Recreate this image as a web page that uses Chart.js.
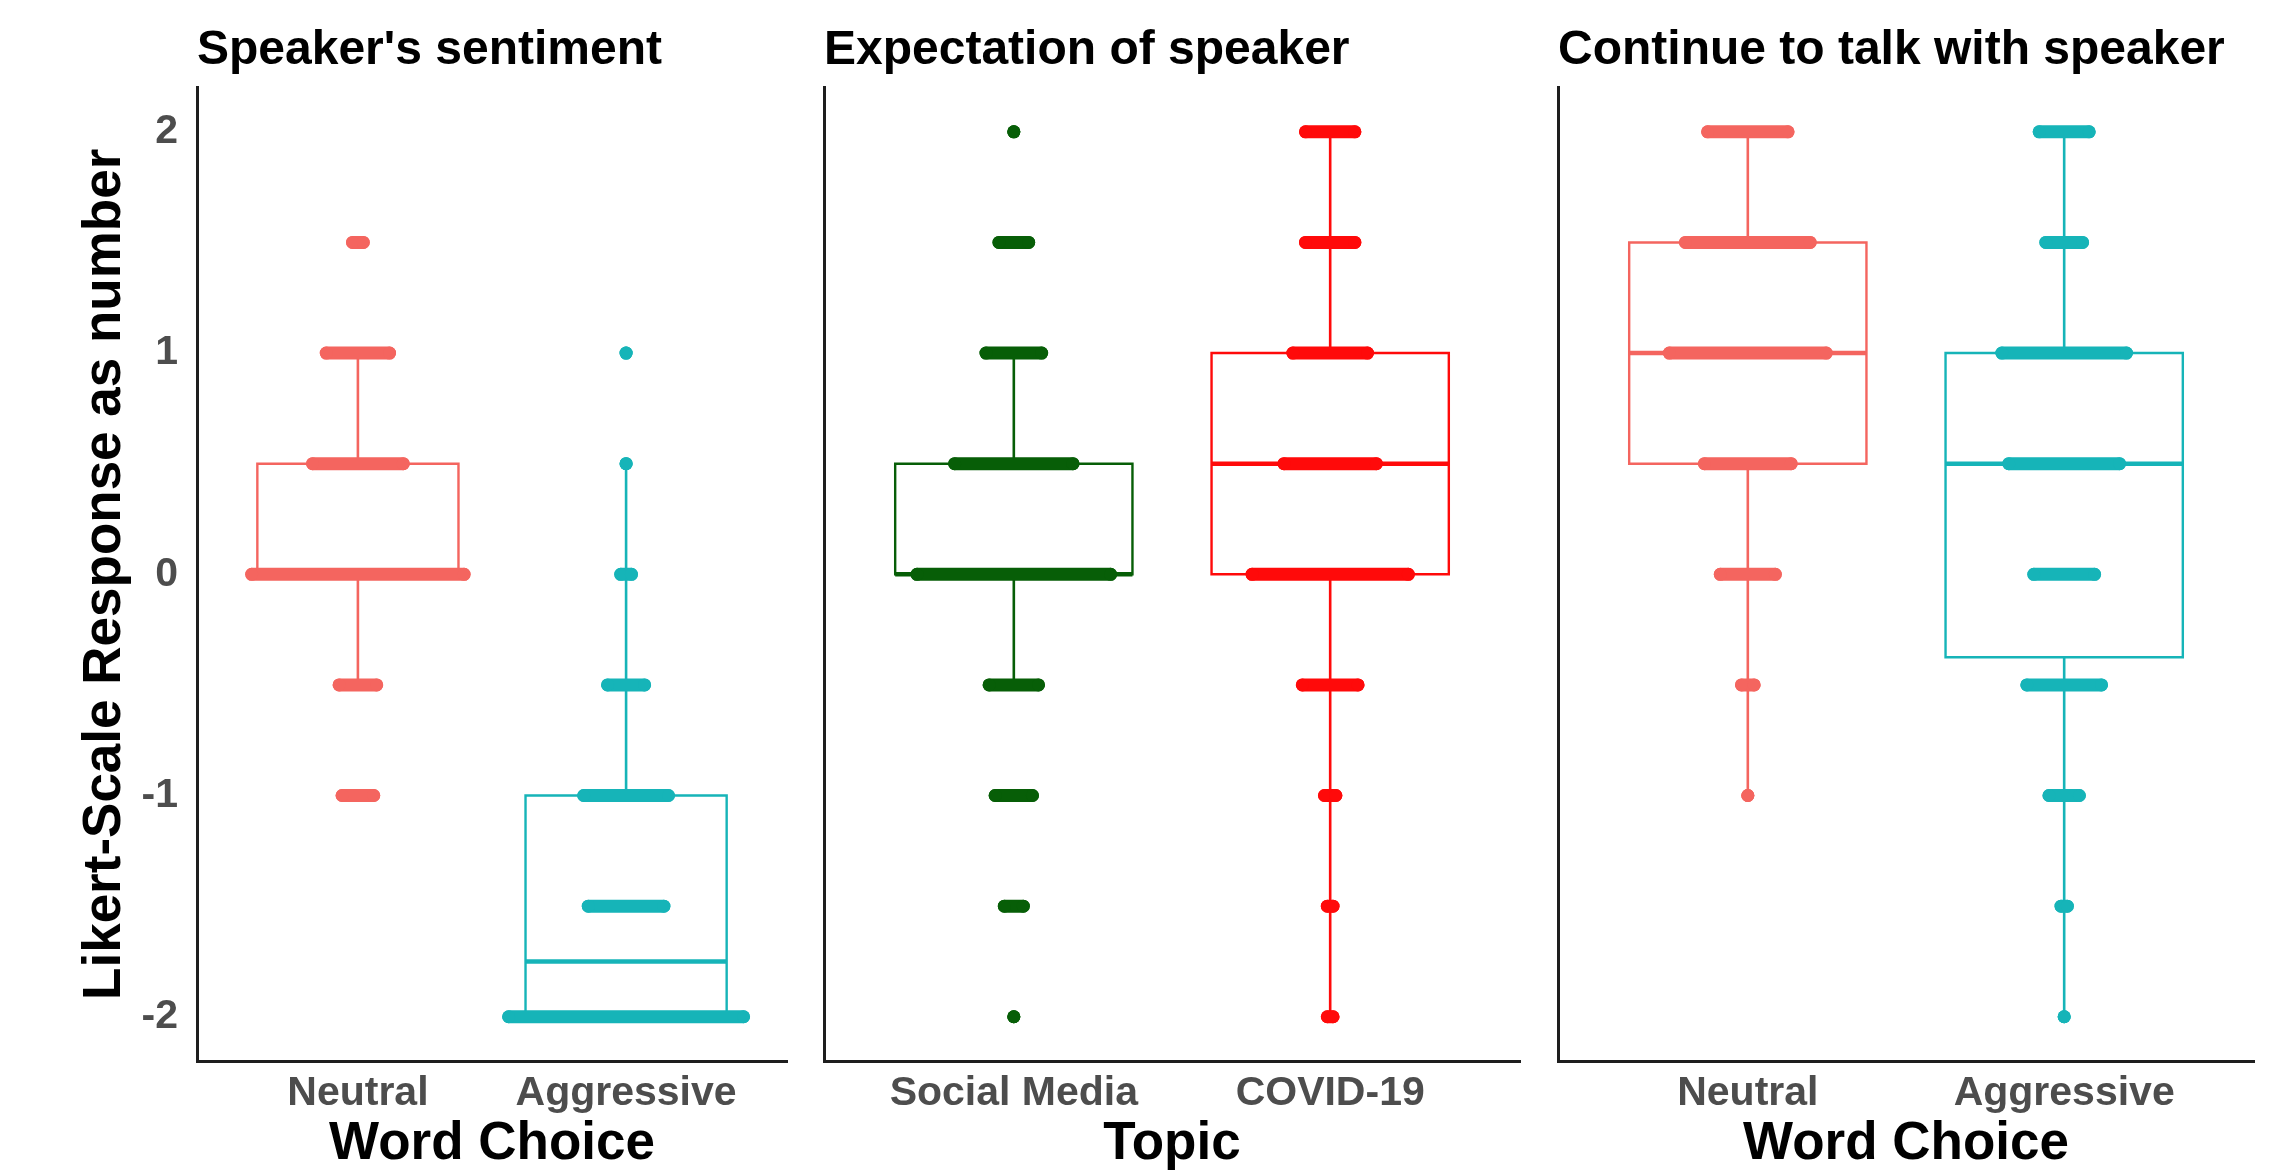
<!DOCTYPE html>
<html>
<head>
<meta charset="utf-8">
<script src="https://cdn.jsdelivr.net/npm/chart.js@4.4.1/dist/chart.umd.min.js"></script>
<style>
  html, body { margin: 0; padding: 0; background: #ffffff; }
  body { width: 2289px; height: 1171px; position: relative; overflow: hidden; }
  canvas { position: absolute; top: 0; }
</style>
</head>
<body>
<canvas id="p1" width="800" height="1171" style="left:0px"></canvas>
<canvas id="p2" width="730" height="1171" style="left:800px"></canvas>
<canvas id="p3" width="759" height="1171" style="left:1530px"></canvas>
<script>
// ---------------- data ----------------
const levels = [2, 1.5, 1, 0.5, 0, -0.5, -1, -1.5, -2];
const yTickValues = [-2, -1, 0, 1, 2];
const yAxisTitle = "Likert-Scale Response as number";

const panelTitles = ["Speaker's sentiment", "Expectation of speaker", "Continue to talk with speaker"];
const xAxisTitles = ["Word Choice", "Topic", "Word Choice"];

const categoriesWord = ["Neutral", "Aggressive"];
const categoriesTopic = ["Social Media", "COVID-19"];

// half-width of the stacked response strip at each level (category units), null = no responses
const stripsSentimentNeutral    = [null, 0.02, 0.118, 0.169, 0.396, 0.07, 0.059, null, null];
const stripsSentimentAggressive = [null, null, 0, 0, 0.02, 0.069, 0.158, 0.141, 0.438];
const stripsExpectSocial        = [0, 0.047, 0.088, 0.187, 0.306, 0.078, 0.059, 0.03, 0];
const stripsExpectCovid         = [0.078, 0.078, 0.118, 0.146, 0.247, 0.088, 0.018, 0.009, 0.009];
const stripsContinueNeutral     = [0.127, 0.197, 0.248, 0.137, 0.087, 0.02, 0, null, null];
const stripsContinueAggressive  = [0.079, 0.058, 0.197, 0.175, 0.096, 0.118, 0.048, 0.01, 0];

// box statistics: [q1, median, q3, lower whisker, upper whisker]
const boxSentimentNeutral    = [0, 0, 0.5, -0.5, 1];
const boxSentimentAggressive = [-2, -1.75, -1, -2, 0.5];
const boxExpectSocial        = [0, 0, 0.5, -0.5, 1];
const boxExpectCovid         = [0, 0.5, 1, -2, 2];
const boxContinueNeutral     = [0.5, 1, 1.5, -1, 2];
const boxContinueAggressive  = [-0.375, 0.5, 1, -2, 2];

// ---------------- styles ----------------
const COL_NEUTRAL = '#F4655F';
const COL_AGGR = '#16B4B8';
const COL_SOCIAL = '#075E07';
const COL_COVID = '#FF0A0A';
const BOX_W = 0.75;
const STRIP_T = 13;
const FONT = "'Liberation Sans', Arial, Helvetica, sans-serif";

function buildDatasets(groups) {
  const ds = [];
  groups.forEach((g, i) => {
    const c = i + 1;
    const [q1, med, q3, lo, hi] = g.box;
    const h = BOX_W / 2;
    ds.push({
      data: [{x: c - h, y: q1}, {x: c + h, y: q1}, {x: c + h, y: q3}, {x: c - h, y: q3}, {x: c - h, y: q1}],
      borderColor: g.color, borderWidth: 2.4, borderJoinStyle: 'miter', borderCapStyle: 'square',
      pointRadius: 0, showLine: true, fill: false, order: 2, clip: false
    });
    ds.push({
      data: [{x: c - h, y: med}, {x: c + h, y: med}],
      borderColor: g.color, borderWidth: 4.6, borderCapStyle: 'butt',
      pointRadius: 0, showLine: true, fill: false, order: 2, clip: false
    });
    ds.push({
      data: [{x: c, y: q3}, {x: c, y: hi}, {x: c, y: null}, {x: c, y: q1}, {x: c, y: lo}],
      borderColor: g.color, borderWidth: 2.6, borderCapStyle: 'butt', spanGaps: false,
      pointRadius: 0, showLine: true, fill: false, order: 2, clip: false
    });
    const pts = [];
    levels.forEach((lv, k) => {
      const w = g.strips[k];
      if (w === null) return;
      pts.push({x: c - w, y: lv}, {x: c + w, y: lv}, {x: c, y: null});
    });
    ds.push({
      data: pts,
      borderColor: g.color, borderWidth: STRIP_T, borderCapStyle: 'round', spanGaps: false,
      pointRadius: STRIP_T / 2, pointBorderWidth: 0, pointBackgroundColor: g.color,
      pointHoverRadius: STRIP_T / 2,
      showLine: true, fill: false, order: 0, clip: false
    });
  });
  return ds;
}

function makePanel(id, opts) {
  const ctx = document.getElementById(id).getContext('2d');
  return new Chart(ctx, {
    type: 'scatter',
    data: { datasets: buildDatasets(opts.groups) },
    options: {
      responsive: false,
      animation: false,
      devicePixelRatio: 1,
      layout: { padding: { left: 0, right: opts.padRight, top: 0, bottom: 0 } },
      plugins: {
        legend: { display: false },
        tooltip: { enabled: false },
        title: {
          display: true, text: opts.title, align: 'start', fullSize: false,
          color: '#000000',
          font: { family: FONT, size: 48, weight: 'bold', lineHeight: 1.2 },
          padding: { top: 22, bottom: 8 }
        }
      },
      scales: {
        x: {
          type: 'linear', min: 0.4, max: 2.6,
          afterBuildTicks: (s) => { s.ticks = opts.categories.map((_, i) => ({ value: i + 1 })); },
          afterFit: (s) => { s.height = 110; },
          grid: { display: false, drawTicks: false, tickLength: 0 },
          border: { display: true, color: '#1e1e1e', width: 3 },
          ticks: {
            callback: (v, i) => opts.categories[i],
            color: '#4D4D4D', padding: 8, maxRotation: 0, autoSkip: false,
            font: { family: FONT, size: 41, weight: 'bold', lineHeight: 1.2 }
          },
          title: {
            display: true, text: opts.xTitle, color: '#000000',
            font: { family: FONT, size: 53, weight: 'bold', lineHeight: 1 },
            padding: { top: 0, bottom: 0 }
          }
        },
        y: {
          type: 'linear', min: -2.2, max: 2.2,
          afterBuildTicks: (s) => { s.ticks = yTickValues.map(v => ({ value: v })); },
          afterFit: (s) => { s.width = opts.yWidth; },
          grid: { display: false, drawTicks: false, tickLength: 0 },
          border: { display: true, color: '#1e1e1e', width: 3 },
          ticks: {
            display: opts.showY,
            callback: (v) => String(v),
            color: '#4D4D4D', padding: 19,
            font: { family: FONT, size: 41, weight: 'bold', lineHeight: 1.2 }
          },
          title: {
            display: opts.showY, text: yAxisTitle, color: '#000000',
            font: { family: FONT, size: 53, weight: 'bold', lineHeight: 1 },
            padding: { top: 79, bottom: 0 }
          }
        }
      }
    }
  });
}

makePanel('p1', {
  title: panelTitles[0], xTitle: xAxisTitles[0], categories: categoriesWord,
  showY: true, yWidth: 197, padRight: 13,
  groups: [
    { strips: stripsSentimentNeutral, box: boxSentimentNeutral, color: COL_NEUTRAL },
    { strips: stripsSentimentAggressive, box: boxSentimentAggressive, color: COL_AGGR }
  ]
});
makePanel('p2', {
  title: panelTitles[1], xTitle: xAxisTitles[1], categories: categoriesTopic,
  showY: false, yWidth: 24, padRight: 10,
  groups: [
    { strips: stripsExpectSocial, box: boxExpectSocial, color: COL_SOCIAL },
    { strips: stripsExpectCovid, box: boxExpectCovid, color: COL_COVID }
  ]
});
makePanel('p3', {
  title: panelTitles[2], xTitle: xAxisTitles[2], categories: categoriesWord,
  showY: false, yWidth: 28, padRight: 35,
  groups: [
    { strips: stripsContinueNeutral, box: boxContinueNeutral, color: COL_NEUTRAL },
    { strips: stripsContinueAggressive, box: boxContinueAggressive, color: COL_AGGR }
  ]
});
</script>
</body>
</html>
